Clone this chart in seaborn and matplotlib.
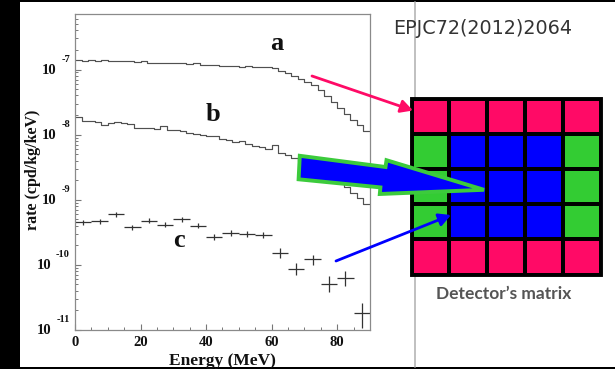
import numpy as np
import pandas as pd
import matplotlib
matplotlib.use("Agg")
import matplotlib.pyplot as plt
import seaborn as sns
from matplotlib.patches import Rectangle, Polygon, FancyArrowPatch
from matplotlib.colors import ListedColormap
from matplotlib.ticker import MultipleLocator, LogLocator, NullFormatter

# ---------------- data ----------------
energy_edges = [0, 2, 4, 6, 8, 10, 12, 14, 16, 18, 20, 22, 24, 26, 28, 30, 32, 34, 36, 38,
                40, 42, 44, 46, 48, 50, 52, 54, 56, 58, 60, 62, 64, 66, 68, 70, 72, 74, 76, 78,
                80, 82, 84, 86, 88, 90]

rate_a = [1.38e-7, 1.35e-7, 1.38e-7, 1.35e-7, 1.40e-7, 1.35e-7, 1.33e-7, 1.35e-7, 1.33e-7, 1.30e-7,
          1.33e-7, 1.28e-7, 1.28e-7, 1.26e-7, 1.28e-7, 1.24e-7, 1.24e-7, 1.22e-7, 1.24e-7, 1.19e-7,
          1.19e-7, 1.17e-7, 1.15e-7, 1.15e-7, 1.13e-7, 1.11e-7, 1.13e-7, 1.09e-7, 1.11e-7, 1.09e-7,
          1.04e-7, 9.65e-8, 8.83e-8, 8.08e-8, 7.27e-8, 6.54e-8, 5.88e-8, 4.92e-8, 3.98e-8, 3.22e-8,
          2.60e-8, 2.11e-8, 1.70e-8, 1.43e-8, 1.15e-8]

rate_b = [1.89e-8, 1.64e-8, 1.64e-8, 1.59e-8, 1.43e-8, 1.53e-8, 1.59e-8, 1.53e-8, 1.48e-8, 1.28e-8,
          1.28e-8, 1.28e-8, 1.24e-8, 1.38e-8, 1.19e-8, 1.19e-8, 1.15e-8, 1.07e-8, 1.04e-8, 1.00e-8,
          9.65e-9, 9.65e-9, 8.68e-9, 8.38e-9, 7.81e-9, 8.08e-9, 7.27e-9, 6.77e-9, 6.54e-9, 6.09e-9,
          7.02e-9, 5.29e-9, 4.92e-9, 4.43e-9, 3.98e-9, 3.46e-9, 3.11e-9, 2.70e-9, 2.34e-9, 2.03e-9,
          1.83e-9, 1.59e-9, 1.28e-9, 1.07e-9, 8.68e-10]

c_energy = [2.5, 7.5, 12.5, 17.5, 22.5, 27.5, 32.5, 37.5, 42.5, 47.5, 52.5, 57.5,
            62.5, 67.5, 72.5, 77.5, 82.5, 87.5]
c_rate = [4.48e-10, 4.70e-10, 6.03e-10, 3.80e-10, 4.72e-10, 4.15e-10, 5.05e-10, 3.98e-10,
          2.72e-10, 3.10e-10, 2.95e-10, 2.86e-10, 1.51e-10, 8.77e-11, 1.21e-10, 5.15e-11,
          6.24e-11, 1.81e-11]
c_low = [4.10e-10, 4.30e-10, 5.52e-10, 3.48e-10, 4.32e-10, 3.80e-10, 4.62e-10, 3.64e-10,
         2.45e-10, 2.79e-10, 2.65e-10, 2.57e-10, 1.26e-10, 7.09e-11, 1.01e-10, 3.88e-11,
         4.79e-11, 1.06e-11]
c_high = [4.90e-10, 5.14e-10, 6.59e-10, 4.15e-10, 5.16e-10, 4.54e-10, 5.52e-10, 4.35e-10,
          3.02e-10, 3.45e-10, 3.28e-10, 3.18e-10, 1.80e-10, 1.085e-10, 1.44e-10, 6.83e-11,
          8.14e-11, 2.58e-11]
c_half_width = 2.5

x_ticks = [0, 20, 40, 60, 80]
y_tick_values = [1e-7, 1e-8, 1e-9, 1e-10, 1e-11]
y_tick_exps = ["-7", "-8", "-9", "-10", "-11"]

curve_labels = ["a", "b", "c"]

detector_matrix = [[0, 0, 0, 0, 0],
                   [1, 2, 2, 2, 1],
                   [1, 2, 2, 2, 1],
                   [1, 2, 2, 2, 1],
                   [0, 0, 0, 0, 0]]
matrix_colors = ["#FF0A66", "#33CC33", "#0000FF"]

# ---------------- style ----------------
sns.set_theme(style="white")
plt.rcParams["font.family"] = ["Liberation Serif", "DejaVu Serif"]
plt.rcParams["font.weight"] = "bold"

W, H = 615, 369
fig = plt.figure(figsize=(W / 100, H / 100), dpi=100, facecolor="black")

# background (white panel + grey separator)
bg = fig.add_axes([0, 0, 1, 1], zorder=0)
bg.set_xlim(0, W); bg.set_ylim(H, 0); bg.axis("off")
bg.add_patch(Rectangle((20, 2), W - 20, 364.5, facecolor="white", edgecolor="none"))
bg.plot([415, 415], [2, 366.5], color="#b5b5b5", lw=1.2)

# ---------------- main plot ----------------
ax_l, ax_r, ax_t, ax_b = 75, 370, 13.5, 330
ax = fig.add_axes([ax_l / W, (H - ax_b) / H, (ax_r - ax_l) / W, (ax_b - ax_t) / H], zorder=1)
ax.set_facecolor("white")
ax.set_yscale("log")

line_col = "#505050"
df_a = pd.DataFrame({"E": energy_edges, "rate": rate_a + [rate_a[-1]]})
df_b = pd.DataFrame({"E": energy_edges, "rate": rate_b + [rate_b[-1]]})
sns.lineplot(data=df_a, x="E", y="rate", ax=ax, drawstyle="steps-post", color=line_col,
             lw=0.85, estimator=None, sort=False)
sns.lineplot(data=df_b, x="E", y="rate", ax=ax, drawstyle="steps-post", color=line_col,
             lw=0.85, estimator=None, sort=False)

c_rate_arr = np.array(c_rate)
yerr = [c_rate_arr - np.array(c_low), np.array(c_high) - c_rate_arr]
ax.errorbar(c_energy, c_rate, xerr=c_half_width, yerr=yerr, fmt="none",
            ecolor="#333333", elinewidth=0.9, capsize=0)

ax.set_xlim(0, 90)
ax.set_ylim(1e-11, 10 ** -6.14)
ax.xaxis.set_major_locator(MultipleLocator(20))
ax.xaxis.set_minor_locator(MultipleLocator(5))
ax.set_xticks(x_ticks)
ax.yaxis.set_major_locator(LogLocator(base=10))
ax.yaxis.set_minor_locator(LogLocator(base=10, subs=np.arange(2, 10)))
ax.yaxis.set_minor_formatter(NullFormatter())
ax.tick_params(axis="both", which="both", direction="in", color="#777777",
               bottom=True, left=True, top=False, right=False)
ax.tick_params(axis="both", which="major", length=4, width=0.8)
ax.tick_params(axis="both", which="minor", length=2.5, width=0.7)
ax.tick_params(axis="x", labelsize=10.5, pad=4, labelcolor="#111111")
ax.tick_params(axis="y", labelleft=False)
for lbl in ax.get_xticklabels():
    lbl.set_fontweight("bold")
for sp in ax.spines.values():
    sp.set_color("#8a8a8a")
    sp.set_linewidth(0.9)

# y tick labels "10" with raised exponent (ROOT style)
for val, ex in zip(y_tick_values, y_tick_exps):
    t_exp = ax.annotate(ex, xy=(0, val), xycoords=("axes fraction", "data"),
                        xytext=(-3.6, 7.3), textcoords="offset points",
                        ha="right", va="center", fontsize=7.5, fontweight="bold",
                        color="#111111", annotation_clip=False)
    ax.annotate("10", xy=(0, 0.5), xycoords=t_exp, xytext=(-3.4, -8.0),
                textcoords="offset points", ha="right", va="center",
                fontsize=10.5, fontweight="bold", color="#111111", annotation_clip=False)

ax.set_xlabel("Energy (MeV)", fontsize=12.5, fontweight="bold", color="#111111", labelpad=3)
ax.set_ylabel("rate (cpd/kg/keV)", fontsize=11.5, fontweight="bold", color="#111111")
ax.yaxis.set_label_coords(-0.142, 0.505)
ax.yaxis.label.set_verticalalignment("center")
ax.yaxis.label.set_horizontalalignment("center")

# curve letters
ax.text(61.7, 1.98e-7, curve_labels[0], ha="center", va="baseline", fontsize=19,
        fontweight="bold", color="#111111")
ax.text(42.2, 1.60e-8, curve_labels[1], ha="center", va="baseline", fontsize=19,
        fontweight="bold", color="#111111")
ax.text(31.7, 1.91e-10, curve_labels[2], ha="center", va="baseline", fontsize=19,
        fontweight="bold", color="#111111")

# ---------------- detector matrix ----------------
m_l, m_r, m_t, m_b = 411.5, 601.3, 98.8, 274.6
mx = fig.add_axes([m_l / W, (H - m_b) / H, (m_r - m_l) / W, (m_b - m_t) / H], zorder=3)
sns.heatmap(detector_matrix, ax=mx, cmap=ListedColormap(matrix_colors), vmin=-0.5, vmax=2.5,
            cbar=False, linewidths=1.7, linecolor="black", xticklabels=False,
            yticklabels=False, square=False)
mx.add_patch(Rectangle((0, 0), 5, 5, fill=False, edgecolor="black", lw=2.8, clip_on=False))

# ---------------- overlay: arrows & text ----------------
ov = fig.add_axes([0, 0, 1, 1], zorder=5)
ov.set_xlim(0, W); ov.set_ylim(H, 0); ov.axis("off")
ov.patch.set_alpha(0)

big_arrow = Polygon([(299.8, 155.8), (385.5, 167.0), (386.5, 160.2), (484.0, 189.8),
                     (379.8, 194.0), (380.4, 187.4), (298.6, 179.3)], closed=True,
                    facecolor="#0000FF", edgecolor="#3CCB3C", lw=2.8, joinstyle="miter")
ov.add_patch(big_arrow)

ov.add_patch(FancyArrowPatch((312, 76), (413, 110.5),
                             arrowstyle="-|>,head_length=0.6,head_width=0.32",
                             mutation_scale=12, color="#FF0A66", lw=2.0,
                             shrinkA=0, shrinkB=0))
ov.add_patch(FancyArrowPatch((336, 261), (451, 215),
                             arrowstyle="-|>,head_length=0.6,head_width=0.32",
                             mutation_scale=12, color="#0000FF", lw=2.0,
                             shrinkA=0, shrinkB=0))

ov.text(393, 28, "EPJC72(2012)2064", ha="left", va="center", fontsize=13.8,
        color="#333333", family="DejaVu Sans", fontweight="normal")
ov.text(504, 294, "Detector\u2019s matrix", ha="center", va="center", fontsize=12.5,
        color="#555555", family="Lato", fontweight="bold")

fig.savefig("out.png", dpi=100, facecolor="black")
